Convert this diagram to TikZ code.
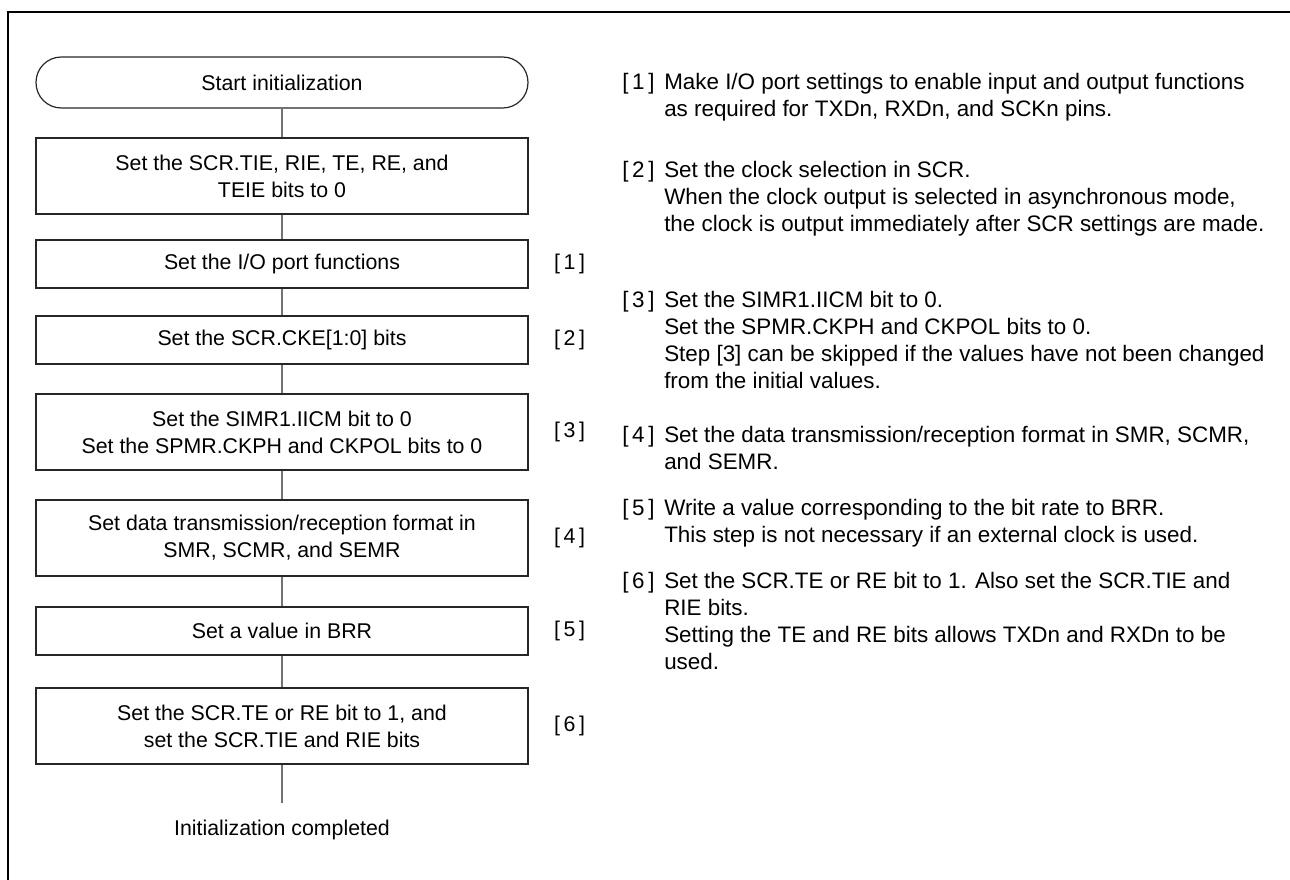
\documentclass[tikz,border=0pt]{standalone}
\usepackage{fontspec}
\setmainfont{Liberation Sans}
\usetikzlibrary{positioning}

\newcommand{\numtag}[1]{\makebox[31.5pt][l]{[\,#1\,]}}
\newcommand{\contind}{\hspace*{31.5pt}}

\begin{document}
\begin{tikzpicture}[x=0.75pt, y=-0.75pt,
    every node/.style={font=\fontsize{16}{20.25}\selectfont},
    box/.style={draw=black!85, line width=0.9pt, minimum width=369pt, align=center, inner sep=0pt},
    single/.style={box, minimum height=36pt},
    double/.style={box, minimum height=57pt},
    term/.style={box, rounded corners=19pt, minimum height=38.25pt},
    flow/.style={draw=black!55, line width=0.9pt},
    stepnum/.style={inner sep=0pt},
    note/.style={anchor=north west, inner sep=0pt, align=left,
        font=\fontsize{16.8}{20.25}\selectfont}]

    \useasboundingbox (0,0) rectangle (1290,880);

    % Cadre
    \draw[line width=2.2pt] (8,880) -- (8,12) -- (1290,12);

    % Organigramme
    \node[term]   (start) at (282, 82.5) {Start initialization};
    \node[double] (b1) at (282, 176) {Set the SCR.TIE, RIE, TE, RE, and\\TEIE bits to 0};
    \node[single] (b2) at (282, 264) {Set the I/O port functions};
    \node[single] (b3) at (282, 340) {Set the SCR.CKE[1:0] bits};
    \node[double] (b4) at (282, 432) {Set the SIMR1.IICM bit to 0\\Set the SPMR.CKPH and CKPOL bits to 0};
    \node[double] (b5) at (282, 538) {Set data transmission/reception format in\\SMR, SCMR, and SEMR};
    \node[single] (b6) at (282, 631) {Set a value in BRR};
    \node[double] (b7) at (282, 726) {Set the SCR.TE or RE bit to 1, and\\set the SCR.TIE and RIE bits};
    \coordinate[below=29pt of b7] (b7end);
    \node (done) at (282, 830) {Initialization completed};

    % Liaisons
    \draw[flow] (start) -- (b1);
    \draw[flow] (b1) -- (b2);
    \draw[flow] (b2) -- (b3);
    \draw[flow] (b3) -- (b4);
    \draw[flow] (b4) -- (b5);
    \draw[flow] (b5) -- (b6);
    \draw[flow] (b6) -- (b7);
    \draw[flow] (b7) -- (b7end);

    % Numeros d'etape
    \node[stepnum, right=19pt of b2] (s1) {[\,1\,]};
    \node[stepnum, right=19pt of b3] (s2) {[\,2\,]};
    \node[stepnum, right=19pt of b4] (s3) {[\,3\,]};
    \node[stepnum, right=19pt of b5] (s4) {[\,4\,]};
    \node[stepnum, right=19pt of b6] (s5) {[\,5\,]};
    \node[stepnum, right=19pt of b7] (s6) {[\,6\,]};

    % Notes
    \node[note] (n1) at (622, 73) {\numtag{1}Make I/O port settings to enable input and output functions\\
        \contind as required for TXDn, RXDn, and SCKn pins.};
    \node[note] (n2) at (622, 161) {\numtag{2}Set the clock selection in SCR.\\
        \contind When the clock output is selected in asynchronous mode,\\
        \contind the clock is output immediately after SCR settings are made.};
    \node[note] (n3) at (622, 291) {\numtag{3}Set the SIMR1.IICM bit to 0.\\
        \contind Set the SPMR.CKPH and CKPOL bits to 0.\\
        \contind Step [3] can be skipped if the values have not been changed\\
        \contind from the initial values.};
    \node[note] (n4) at (622, 426) {\numtag{4}Set the data transmission/reception format in SMR, SCMR,\\
        \contind and SEMR.};
    \node[note] (n5) at (622, 499) {\numtag{5}Write a value corresponding to the bit rate to BRR.\\
        \contind This step is not necessary if an external clock is used.};
    \node[note] (n6) at (622, 572) {\numtag{6}Set the SCR.TE or RE bit to 1. Also set the SCR.TIE and\\
        \contind RIE bits.\\
        \contind Setting the TE and RE bits allows TXDn and RXDn to be\\
        \contind used.};
\end{tikzpicture}
\end{document}
